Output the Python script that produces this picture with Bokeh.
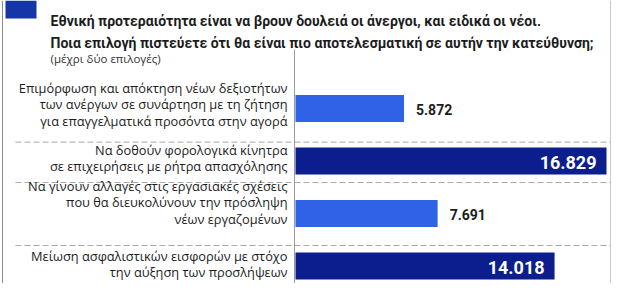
from bokeh.plotting import figure
from bokeh.models import Range1d, ColumnDataSource
from bokeh.core.properties import value
from bokeh.embed import file_html
from bokeh.resources import INLINE

# ---------------- data ----------------
title_lines = [
    "Εθνική προτεραιότητα είναι να βρουν δουλειά οι άνεργοι, και ειδικά οι νέοι.",
    "Ποια επιλογή πιστεύετε ότι θα είναι πιο αποτελεσματική σε αυτήν την κατεύθυνση;",
]
subtitle = "(μέχρι δύο επιλογές)"
categories = [
    "Επιμόρφωση και απόκτηση νέων δεξιοτήτων\nτων ανέργων σε συνάρτηση με τη ζήτηση\nγια επαγγελματικά προσόντα στην αγορά",
    "Να δοθούν φορολογικά κίνητρα\nσε επιχειρήσεις με ρήτρα απασχόλησης",
    "Να γίνουν αλλαγές στις εργασιακές σχέσεις\nπου θα διευκολύνουν την πρόσληψη\nνέων εργαζομένων",
    "Μείωση ασφαλιστικών εισφορών με στόχο\nτην αύξηση των προσλήψεων",
]
values = [5.872, 16.829, 7.691, 14.018]
value_labels = ["5.872", "16.829", "7.691", "14.018"]

# ---------------- layout ----------------
W, H = 611, 283
X0_PX, XMAX_PX = 295, 606
ROW0_PX, ROW_PX = 108, 52.5
sx = (XMAX_PX - X0_PX) / max(values)


def X(px):
    return (px - X0_PX) / sx


def Y(py):
    return (py - ROW0_PX) / ROW_PX


LIGHT = "#2f62e6"
DARK = "#0c1d8e"
TXT = "#1c1c1c"
GRAY = "#a8a8a8"

rows = list(range(len(values)))
threshold = sorted(values)[-2]
is_dark = [v >= threshold for v in values]
colors = [DARK if d else LIGHT for d in is_dark]

p = figure(width=W, height=H, output_backend="svg", toolbar_location=None,
           x_range=Range1d(X(0), X(W)), y_range=Range1d(Y(H), Y(0)),
           x_axis_type=None, y_axis_type=None, min_border=0,
           outline_line_color=None, background_fill_color="white")

# frame lines
p.segment(x0=[X(2), X(610.5)], y0=[Y(0), Y(0)], x1=[X(2), X(610.5)], y1=[Y(H), Y(H)],
          line_color="#8c8c8c", line_width=1)
p.segment(x0=[X(294)], y0=[Y(49)], x1=[X(294)], y1=[Y(H)], line_color="#9a9a9a", line_width=1)
sep_rows = [0.64, 1.41, 2.61]
p.segment(x0=[X(15)] * 3, x1=[X(610)] * 3, y0=sep_rows, y1=sep_rows,
          line_color=GRAY, line_width=1, line_dash="6 3")

# title block
p.quad(left=[X(5)], right=[X(36)], top=[Y(0)], bottom=[Y(18)], fill_color="#1536a8", line_color=None)
p.text(x=[X(50)] * 2, y=[Y(20), Y(42)], text=title_lines, text_font=value("Roboto"),
       text_font_style="bold", text_font_size="14px", text_color=TXT, text_baseline="alphabetic")
p.text(x=[X(50)], y=[Y(58)], text=[subtitle], text_font=value("Open Sans"),
       text_font_size="11.5px", text_color="#333333", text_baseline="alphabetic")

# bars
src = ColumnDataSource(dict(y=rows, v=values, c=colors, lab=value_labels))
p.hbar(y="y", left=0, right="v", height=27 / ROW_PX, fill_color="c", line_color=None, source=src)

# category labels
label_dy = [-4, -3, -11, -2]
p.text(x=[X(287)] * len(categories), y=[r + d / ROW_PX for r, d in zip(rows, label_dy)],
       text=categories, text_align="right", text_baseline="middle",
       text_font=value("Open Sans"), text_font_size="12.8px", text_line_height=0.92,
       text_color=TXT)

# value labels
light_idx = [i for i in rows if not is_dark[i]]
dark_idx = [i for i in rows if is_dark[i]]
p.text(x=[values[i] for i in light_idx], y=[rows[i] for i in light_idx],
       text=[value_labels[i] for i in light_idx], x_offset=12, y_offset=1,
       text_align="left", text_baseline="middle", text_font=value("Roboto"),
       text_font_style="bold", text_font_size="14px", text_color=TXT)
p.text(x=[values[i] for i in dark_idx], y=[rows[i] for i in dark_idx],
       text=[value_labels[i] for i in dark_idx], x_offset=-10, y_offset=1,
       text_align="right", text_baseline="middle", text_font=value("Roboto"),
       text_font_style="bold", text_font_size="18px", text_color="white")

open("out.html", "w").write(file_html(p, INLINE))
